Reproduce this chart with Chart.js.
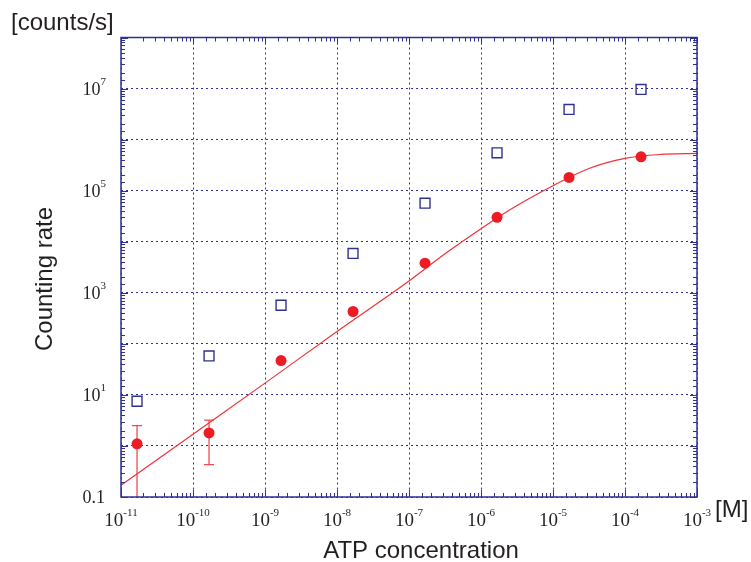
<!DOCTYPE html>
<html>
<head>
<meta charset="utf-8">
<script src="https://cdn.jsdelivr.net/npm/chart.js@4.4.0/dist/chart.umd.min.js"></script>
<style>
html,body{margin:0;padding:0;background:#ffffff;}
#wrap{width:751px;height:562px;position:relative;}
</style>
</head>
<body>
<div id="wrap"><canvas id="c" width="751" height="562"></canvas></div>
<script>
// ---------------- data ----------------
const atpConcentration = [1.67e-11, 1.67e-10, 1.67e-9, 1.67e-8, 1.67e-7, 1.67e-6, 1.67e-5, 1.67e-4];
const countingRateFilled = [1.1, 1.8, 47, 430, 3800, 30000, 182000, 460000];
const countingRateOpen = [7.5, 58, 570, 5900, 57000, 550000, 3.9e6, 9.6e6];
const errorHigh = [2.5, 3.2, null, null, null, null, null, null];
const errorLow = [0.05, 0.43, null, null, null, null, null, null];
const fitConcentration = [1e-11, 1e-10, 1e-9, 1e-8, 1e-7, 3.16e-7, 1e-6, 3.16e-6, 1e-5, 3.16e-5, 1e-4, 3.16e-4, 1e-3];
const fitRate = [0.17, 1.7, 17, 175, 1700, 5800, 18000, 51000, 125000, 272000, 428000, 512000, 537000];

const xTickValues = [1e-11, 1e-10, 1e-9, 1e-8, 1e-7, 1e-6, 1e-5, 1e-4, 1e-3];
const xTickBase = ['10','10','10','10','10','10','10','10','10'];
const xTickExp = ['-11','-10','-9','-8','-7','-6','-5','-4','-3'];
const yTickValues = [0.1, 10, 1e3, 1e5, 1e7];
const yTickBase = ['0.1','10','10','10','10'];
const yTickExp = ['','1','3','5','7'];

const xTitle = 'ATP concentration';
const xUnit = '[M]';
const yTitle = 'Counting rate';
const yUnit = '[counts/s]';

// ---------------- styles ----------------
const NAVY = '#2e3192';
const RED = '#ed1c24';
const TEXT = '#231f20';

function isPow10(v){ const l = Math.log10(v); return Math.abs(l - Math.round(l)) < 1e-6; }

const decor = {
  id: 'decor',
  beforeDatasetsDraw(chart){
    const {ctx, chartArea:a, scales:{x, y}} = chart;
    ctx.save();
    ctx.beginPath();
    ctx.rect(a.left, a.top, a.width, a.height);
    ctx.clip();
    ctx.strokeStyle = '#f04a50';
    ctx.lineWidth = 1.3;
    atpConcentration.forEach((c, i) => {
      if (errorHigh[i] == null) return;
      const px = x.getPixelForValue(c);
      const pt = y.getPixelForValue(errorHigh[i]);
      const pb = y.getPixelForValue(errorLow[i]);
      ctx.beginPath();
      ctx.moveTo(px, pt); ctx.lineTo(px, pb);
      ctx.moveTo(px - 5, pt); ctx.lineTo(px + 5, pt);
      ctx.moveTo(px - 5, pb); ctx.lineTo(px + 5, pb);
      ctx.stroke();
    });
    ctx.restore();
  },
  afterDraw(chart){
    const {ctx, chartArea:a, scales:{x, y}} = chart;
    ctx.save();
    // inward ticks on all four sides
    ctx.strokeStyle = NAVY;
    ctx.lineWidth = 1;
    ctx.beginPath();
    x.ticks.forEach(t => {
      const p = Math.round(x.getPixelForValue(t.value)) + 0.5;
      if (p < a.left - 1 || p > a.right + 1) return;
      const L = isPow10(t.value) ? 7 : 4;
      ctx.moveTo(p, a.bottom); ctx.lineTo(p, a.bottom - L);
      ctx.moveTo(p, a.top); ctx.lineTo(p, a.top + L);
    });
    y.ticks.forEach(t => {
      const p = Math.round(y.getPixelForValue(t.value)) + 0.5;
      if (p < a.top - 1 || p > a.bottom + 1) return;
      const L = isPow10(t.value) ? 7 : 4;
      ctx.moveTo(a.left, p); ctx.lineTo(a.left + L, p);
      ctx.moveTo(a.right, p); ctx.lineTo(a.right - L, p);
    });
    ctx.stroke();
    ctx.lineWidth = 1.5;
    ctx.strokeRect(a.left, a.top, a.width, a.height);

    // tick labels with superscript exponents
    ctx.fillStyle = TEXT;
    ctx.textBaseline = 'alphabetic';
    ctx.textAlign = 'left';
    const baseFontX = '19px "Liberation Serif", "Times New Roman", serif';
    const baseFontY = '18px "Liberation Serif", "Times New Roman", serif';
    const expFont = '11px "Liberation Serif", "Times New Roman", serif';
    xTickValues.forEach((v, i) => {
      const px = x.getPixelForValue(v);
      ctx.font = baseFontX;
      const wb = ctx.measureText(xTickBase[i]).width;
      ctx.font = expFont;
      const we = ctx.measureText(xTickExp[i]).width;
      const start = px - (wb + we) / 2;
      ctx.font = baseFontX;
      ctx.fillText(xTickBase[i], start, a.bottom + 28.5);
      ctx.font = expFont;
      ctx.fillText(xTickExp[i], start + wb, a.bottom + 19);
    });
    yTickValues.forEach((v, i) => {
      const py = y.getPixelForValue(v);
      ctx.font = baseFontY;
      const wb = ctx.measureText(yTickBase[i]).width;
      ctx.fillText(yTickBase[i], 82.5, py + 6);
      if (yTickExp[i]) {
        ctx.font = expFont;
        ctx.fillText(yTickExp[i], 82.5 + wb, py - 3.8);
      }
    });

    // titles
    ctx.font = '24px "Liberation Sans", Arial, sans-serif';
    ctx.fillStyle = TEXT;
    ctx.textAlign = 'left';
    ctx.fillText(yUnit, 11, 30);
    ctx.fillText(xUnit, 715, 517);
    ctx.textAlign = 'center';
    ctx.fillText(xTitle, 421, 558);
    ctx.save();
    ctx.translate(52, 279);
    ctx.rotate(-Math.PI / 2);
    ctx.fillText(yTitle, 0, 0);
    ctx.restore();
    ctx.restore();
  }
};

const gridColor = c => (c.tick && isPow10(c.tick.value)) ? NAVY : 'rgba(0,0,0,0)';

new Chart(document.getElementById('c'), {
  type: 'scatter',
  data: {
    datasets: [
      {
        label: 'Counting rate (filled)',
        data: atpConcentration.map((c, i) => ({x: c, y: countingRateFilled[i]})),
        pointStyle: 'circle',
        pointRadius: 5.5,
        backgroundColor: RED,
        borderColor: RED,
        borderWidth: 0,
        showLine: false
      },
      {
        label: 'Counting rate (open)',
        data: atpConcentration.map((c, i) => ({x: c, y: countingRateOpen[i]})),
        pointStyle: 'rect',
        pointRadius: 7,
        backgroundColor: 'rgba(255,255,255,0)',
        borderColor: NAVY,
        borderWidth: 1.4,
        showLine: false
      },
      {
        type: 'line',
        label: 'Fit',
        data: fitConcentration.map((c, i) => ({x: c, y: fitRate[i]})),
        borderColor: '#ef3339',
        borderWidth: 1.2,
        pointRadius: 0,
        fill: false,
        cubicInterpolationMode: 'monotone'
      }
    ]
  },
  options: {
    responsive: false,
    animation: false,
    events: [],
    devicePixelRatio: 1,
    layout: { padding: { left: 121, right: 54, top: 37.5, bottom: 65 } },
    plugins: { legend: { display: false }, tooltip: { enabled: false }, title: { display: false } },
    scales: {
      x: {
        type: 'logarithmic',
        min: 1e-11, max: 1e-3,
        ticks: { display: false, autoSkip: false },
        grid: { color: gridColor, lineWidth: 1, drawTicks: false },
        border: { display: false, dash: [2, 3] },
        afterFit: s => { s.height = 0; }
      },
      y: {
        type: 'logarithmic',
        min: 0.1, max: 1e8,
        ticks: { display: false, autoSkip: false },
        grid: { color: gridColor, lineWidth: 1, drawTicks: false },
        border: { display: false, dash: [2, 3] },
        afterFit: s => { s.width = 0; }
      }
    }
  },
  plugins: [decor]
});
</script>
</body>
</html>
